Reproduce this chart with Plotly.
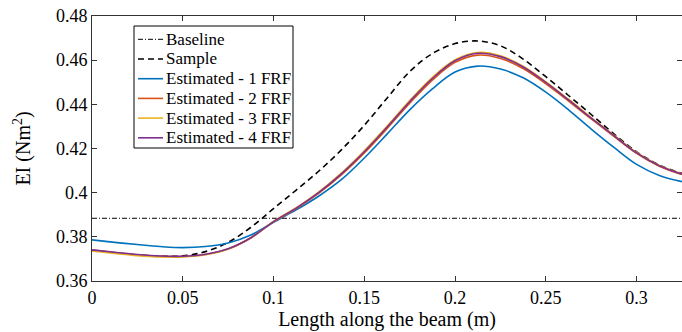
import plotly.graph_objects as go

# ---------------- data ----------------
x_pos = [0, 0.0125, 0.025, 0.0375, 0.05, 0.0625, 0.075, 0.0875, 0.1, 0.1125,
         0.125, 0.1375, 0.15, 0.1625, 0.175, 0.1875, 0.2, 0.2125, 0.225, 0.2375,
         0.25, 0.2625, 0.275, 0.2875, 0.3, 0.3125, 0.325]

baseline_value = 0.3884

sample = [0.3738, 0.3727, 0.3718, 0.3712, 0.3714, 0.3733, 0.3775, 0.3843, 0.3928, 0.4012,
          0.4098, 0.4195, 0.4305, 0.4428, 0.4548, 0.4630, 0.4675, 0.4687, 0.4665, 0.4605,
          0.4525, 0.4440, 0.4354, 0.4266, 0.4185, 0.4125, 0.4087]

est_1 = [0.3786, 0.3775, 0.3765, 0.3756, 0.3751, 0.3756, 0.3772, 0.3808, 0.3866, 0.3922,
         0.3985, 0.4060, 0.4157, 0.4265, 0.4375, 0.4470, 0.4546, 0.4573, 0.4560, 0.4520,
         0.4455, 0.4375, 0.4288, 0.4205, 0.4128, 0.4078, 0.4050]

est_2 = [0.3740, 0.3729, 0.3719, 0.3712, 0.3711, 0.3720, 0.3745, 0.3795, 0.3868, 0.3928,
         0.3998, 0.4082, 0.4180, 0.4290, 0.4405, 0.4510, 0.4590, 0.4623, 0.4608, 0.4562,
         0.4493, 0.4415, 0.4334, 0.4255, 0.4178, 0.4120, 0.4082]

est_3 = [0.3736, 0.3725, 0.3715, 0.3709, 0.3709, 0.3719, 0.3745, 0.3796, 0.3870, 0.3932,
         0.4004, 0.4090, 0.4190, 0.4301, 0.4417, 0.4522, 0.4602, 0.4635, 0.4620, 0.4573,
         0.4502, 0.4423, 0.4340, 0.4260, 0.4182, 0.4123, 0.4085]

est_4 = [0.3741, 0.3730, 0.3720, 0.3713, 0.3712, 0.3721, 0.3746, 0.3796, 0.3869, 0.3930,
         0.4001, 0.4086, 0.4185, 0.4296, 0.4412, 0.4517, 0.4597, 0.4631, 0.4616, 0.4569,
         0.4499, 0.4420, 0.4338, 0.4258, 0.4180, 0.4122, 0.4084]

series_names = ["Baseline", "Sample", "Estimated - 1 FRF", "Estimated - 2 FRF",
                "Estimated - 3 FRF", "Estimated - 4 FRF"]

x_ticks = [0, 0.05, 0.1, 0.15, 0.2, 0.25, 0.3]
x_tick_text = ["0", "0.05", "0.1", "0.15", "0.2", "0.25", "0.3"]
y_ticks = [0.36, 0.38, 0.4, 0.42, 0.44, 0.46, 0.48]
y_tick_text = ["0.36", "0.38", "0.4", "0.42", "0.44", "0.46", "0.48"]

# ---------------- style ----------------
FONT = "Liberation Serif"
W, H = 682, 332
ML, MR, MT, MB = 92, 0, 16, 51
PW, PH = W - ML - MR, H - MT - MB

colors = ["black", "black", "#0072BD", "#D95319", "#EDB120", "#7E2F8E"]
dashes = ["5px,2px,1px,2px", "6px,4px", "solid", "solid", "solid", "solid"]
widths = [1, 1.6, 1.6, 1.6, 1.6, 1.6]


def px_x(p):
    return (p - ML) / PW


def px_y(p):
    return (H - MB - p) / PH


fig = go.Figure()
fig.add_trace(go.Scatter(x=[x_pos[0], x_pos[-1]], y=[baseline_value, baseline_value],
                         mode="lines", name=series_names[0],
                         line=dict(color=colors[0], width=widths[0], dash=dashes[0])))
for name, ys, c, d, w in zip(series_names[1:], [sample, est_1, est_2, est_3, est_4],
                             colors[1:], dashes[1:], widths[1:]):
    fig.add_trace(go.Scatter(x=x_pos, y=ys, mode="lines", name=name,
                             line=dict(color=c, width=w, dash=d, shape="spline")))

# ---------------- custom legend (MATLAB-like compact) ----------------
shapes = [dict(type="rect", xref="paper", yref="paper",
               x0=px_x(134), x1=px_x(293), y0=px_y(148), y1=px_y(26),
               line=dict(color="black", width=1), fillcolor="white", layer="above")]
annotations = []
row0, dy = 39.3, 19.7
for i, name in enumerate(series_names):
    yc = row0 + i * dy
    shapes.append(dict(type="line", xref="paper", yref="paper",
                       x0=px_x(138), x1=px_x(163), y0=px_y(yc), y1=px_y(yc),
                       line=dict(color=colors[i], width=widths[i], dash=dashes[i]),
                       layer="above"))
    annotations.append(dict(xref="paper", yref="paper", x=px_x(164), y=px_y(yc),
                            xanchor="left", yanchor="middle", showarrow=False,
                            text=name, font=dict(family=FONT, size=17, color="black")))

axis_common = dict(showgrid=False, zeroline=False, showline=True, linecolor="#333333",
                   linewidth=1, mirror="ticks", ticks="inside", ticklen=5,
                   tickcolor="#333333", tickfont=dict(family=FONT, size=18, color="black"))

fig.update_layout(
    width=W, height=H,
    margin=dict(l=ML, r=MR, t=MT, b=MB),
    paper_bgcolor="white", plot_bgcolor="white",
    font=dict(family=FONT, color="black"),
    showlegend=False,
    xaxis=dict(range=[0, 0.325], tickvals=x_ticks, ticktext=x_tick_text,
               title=dict(text="Length along the beam (m)",
                          font=dict(family=FONT, size=20), standoff=5),
               **axis_common),
    yaxis=dict(range=[0.36, 0.48], tickvals=y_ticks, ticktext=y_tick_text,
               title=dict(text="EI (Nm<sup>2</sup>)",
                          font=dict(family=FONT, size=20), standoff=19),
               **axis_common),
    shapes=shapes,
    annotations=annotations,
)

fig.write_html("out.html")
